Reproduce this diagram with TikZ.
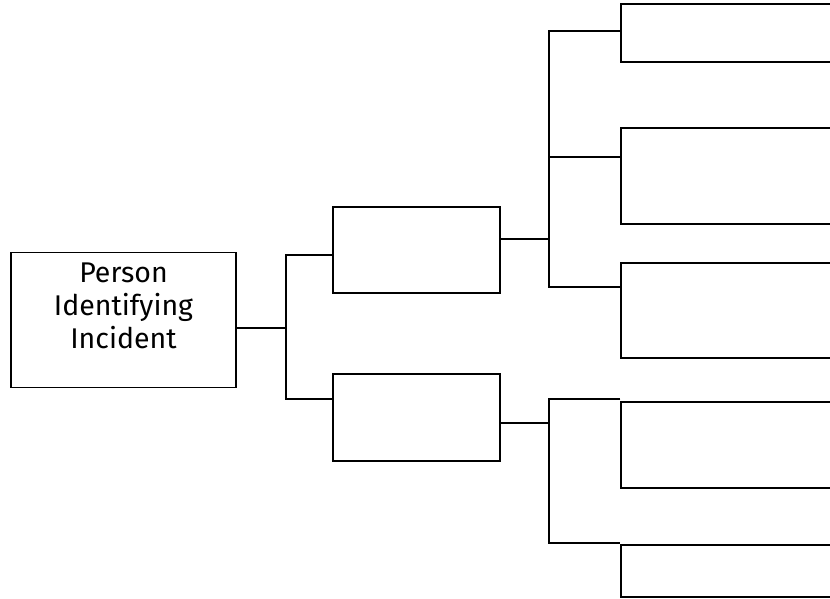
\documentclass[tikz,border=0pt]{standalone}
\usepackage{fontspec}
\setmainfont{Fira Sans}
\begin{document}
\begin{tikzpicture}[x=1pt,y=-1pt,
  box/.style={draw, line width=1.2pt, inner sep=0pt},
  link/.style={line width=1.2pt}]
\useasboundingbox (0,0) rectangle (830,598);
\clip (0,0) rectangle (830,598);
\node[box, minimum width=225pt, minimum height=135pt] (root) at (123.5,320) {};
\node[align=center, inner sep=0pt, font=\fontsize{28.5}{33}\selectfont] (roottext) at ([yshift=14pt]root.center) {Person\\Identifying\\Incident};
\node[box, minimum width=167pt, minimum height=86pt] (mid1) at (416.5,250) {};
\node[box, minimum width=167pt, minimum height=87pt] (mid2) at (416.5,417.5) {};
\node[box, minimum width=279pt, minimum height=58pt] (r1) at (760.5,33) {};
\node[box, minimum width=279pt, minimum height=96pt] (r2) at (760.5,176) {};
\node[box, minimum width=279pt, minimum height=95pt] (r3) at (760.5,310.5) {};
\node[box, minimum width=279pt, minimum height=86pt] (r4) at (760.5,445) {};
\node[box, minimum width=279pt, minimum height=52pt] (r5) at (760.5,571) {};
% root to middle
\coordinate (j1) at (286,328);
\coordinate (t1) at (286,255);
\coordinate (b1) at (286,399);
\draw[link] (root.east |- j1) -- (j1);
\draw[link] (mid1.west |- t1) -- (t1) -- (b1) -- (mid2.west |- b1);
% mid1 to right
\coordinate (j2) at (549,239);
\coordinate (t2) at (549,31);
\coordinate (m2) at (549,157);
\coordinate (b2) at (549,287);
\draw[link] (mid1.east |- j2) -- (j2);
\draw[link] (r1.west |- t2) -- (t2) -- (b2) -- (r3.west |- b2);
\draw[link] (m2) -- (r2.west |- m2);
% mid2 to right
\coordinate (j3) at (549,423);
\coordinate (t3) at (549,399);
\coordinate (b3) at (549,543);
\draw[link] (mid2.east |- j3) -- (j3);
\draw[link] (r4.west |- t3) -- (t3) -- (b3) -- (r5.west |- b3);
\end{tikzpicture}
\end{document}
